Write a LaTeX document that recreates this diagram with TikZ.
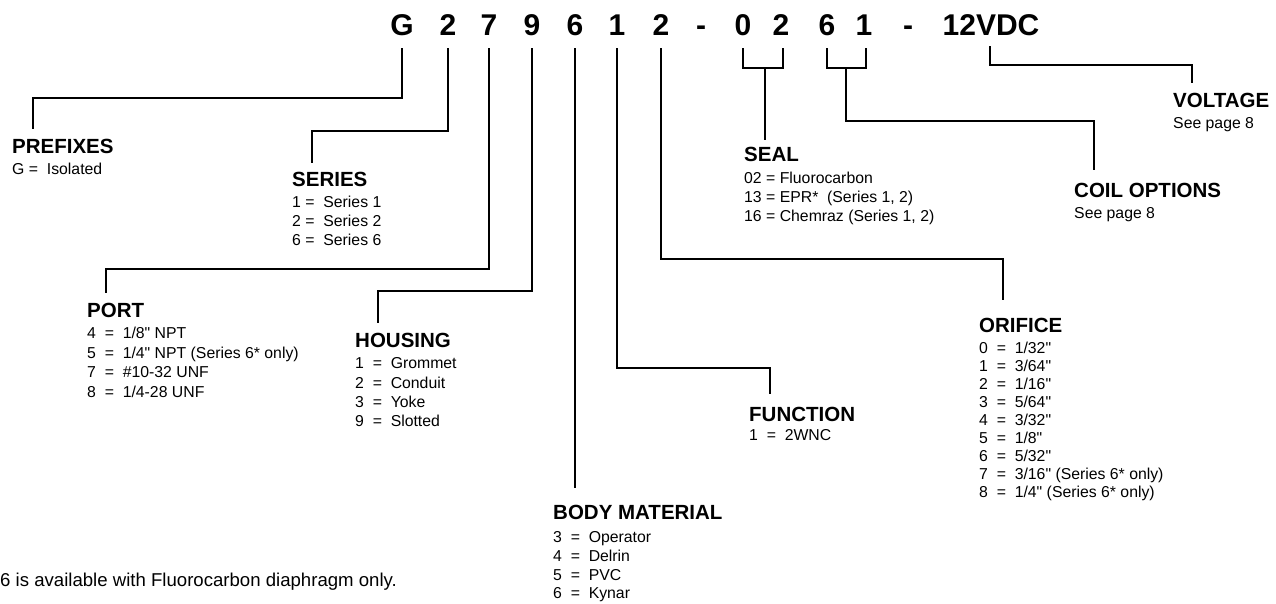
\documentclass[tikz,border=0pt]{standalone}
\usepackage{fontspec}
\setmainfont{Liberation Sans}[Ligatures=TeXOff]
\begin{document}
\begin{tikzpicture}[x=1pt,y=-1pt,
  code/.style={font=\fontsize{30}{30}\selectfont\bfseries, inner sep=0pt, anchor=base},
  head/.style={font=\fontsize{20.5}{24}\selectfont\bfseries, inner sep=0pt, anchor=base west},
  item/.style={font=\fontsize{15.8}{19}\selectfont, inner sep=0pt, anchor=base west},
  note/.style={font=\fontsize{18.6}{22}\selectfont, inner sep=0pt, anchor=base west},
  conn/.style={line width=2.8pt, line join=miter}]
\useasboundingbox (0,0) rectangle (1276,603);

% code characters
\node[code] (cG)  at (402,35) {G};
\node[code] (c2a) at (448,35) {2};
\node[code] (c7)  at (489,35) {7};
\node[code] (c9)  at (532,35) {9};
\node[code] (c6a) at (575,35) {6};
\node[code] (c1a) at (617,35) {1};
\node[code] (c2b) at (661,35) {2};
\node[code] (cda) at (701,35) {-};
\node[code] (c0)  at (743,35) {0};
\node[code] (c2c) at (781,35) {2};
\node[code] (c6b) at (827,35) {6};
\node[code] (c1b) at (864,35) {1};
\node[code] (cdb) at (908,35) {-};
\node[code] (cV)  at (991,35) {12VDC};

% headings and items
\node[head] (hPre) at (12,153) {PREFIXES};
\node[item] (iPre1) at (12,174) {G =\ \ Isolated};

\node[head] (hSer) at (292,186) {SERIES};
\node[item] (iSer1) at (292,207) {1 =\ \ Series 1};
\node[item] (iSer2) at (292,226) {2 =\ \ Series 2};
\node[item] (iSer3) at (292,245) {6 =\ \ Series 6};

\node[head] (hPort) at (87,317) {PORT};
\node[item] (iPort1) at (87,338) {4\ \ =\ \ 1/8" NPT};
\node[item] (iPort2) at (87,358) {5\ \ =\ \ 1/4" NPT (Series 6* only)};
\node[item] (iPort3) at (87,377) {7\ \ =\ \ \#10-32 UNF};
\node[item] (iPort4) at (87,397) {8\ \ =\ \ 1/4-28 UNF};

\node[head] (hHou) at (355,347) {HOUSING};
\node[item] (iHou1) at (355,368) {1\ \ =\ \ Grommet};
\node[item] (iHou2) at (355,388) {2\ \ =\ \ Conduit};
\node[item] (iHou3) at (355,407) {3\ \ =\ \ Yoke};
\node[item] (iHou4) at (355,426) {9\ \ =\ \ Slotted};

\node[head] (hBody) at (553,519) {BODY MATERIAL};
\node[item] (iBody1) at (553,542) {3\ \ =\ \ Operator};
\node[item] (iBody2) at (553,561) {4\ \ =\ \ Delrin};
\node[item] (iBody3) at (553,580) {5\ \ =\ \ PVC};
\node[item] (iBody4) at (553,598) {6\ \ =\ \ Kynar};

\node[head] (hFun) at (749,421) {FUNCTION};
\node[item] (iFun1) at (749,440) {1\ \ =\ \ 2WNC};

\node[head] (hOri) at (979,332) {ORIFICE};
\node[item] (iOri0) at (979,353.0) {0\ \ =\ \ 1/32"};
\node[item] (iOri1) at (979,371.1) {1\ \ =\ \ 3/64"};
\node[item] (iOri2) at (979,389.2) {2\ \ =\ \ 1/16"};
\node[item] (iOri3) at (979,407.3) {3\ \ =\ \ 5/64"};
\node[item] (iOri4) at (979,425.4) {4\ \ =\ \ 3/32"};
\node[item] (iOri5) at (979,443.5) {5\ \ =\ \ 1/8"};
\node[item] (iOri6) at (979,461.6) {6\ \ =\ \ 5/32"};
\node[item] (iOri7) at (979,479.7) {7\ \ =\ \ 3/16" (Series 6* only)};
\node[item] (iOri8) at (979,497.8) {8\ \ =\ \ 1/4" (Series 6* only)};

\node[head] (hSeal) at (744,161) {SEAL};
\node[item] (iSeal1) at (744,183) {02 = Fluorocarbon};
\node[item] (iSeal2) at (744,202) {13 = EPR*\ \ (Series 1, 2)};
\node[item] (iSeal3) at (744,221) {16 = Chemraz (Series 1, 2)};

\node[head] (hCoil) at (1074,197) {COIL OPTIONS};
\node[item] (iCoil1) at (1074,218) {See page 8};

\node[head] (hVolt) at (1173,107) {VOLTAGE};
\node[item] (iVolt1) at (1173,128) {See page 8};

\node[note] (note1) at (0,586) {6 is available with Fluorocarbon diaphragm only.};

% connector end points
\coordinate (tPre)  at (33,129);
\coordinate (tSer)  at (312,163);
\coordinate (tPort) at (106,293);
\coordinate (tHou)  at (378,323);
\coordinate (tBody) at (575,488);
\coordinate (tFun)  at (770,394);
\coordinate (tOri)  at (1003,300);
\coordinate (tSeal) at (765,140);
\coordinate (tCoil) at (1094,170);
\coordinate (tVolt) at (1192,83);

% connectors
\draw[conn] ([yshift=-13pt]cG.base)  |- (33,98)   -- (tPre);
\draw[conn] ([yshift=-13pt]c2a.base) |- (312,131) -- (tSer);
\draw[conn] ([yshift=-13pt]c7.base)  |- (106,269) -- (tPort);
\draw[conn] ([yshift=-13pt]c9.base)  |- (378,291) -- (tHou);
\draw[conn] ([yshift=-13pt]c6a.base) -- (tBody);
\draw[conn] ([yshift=-13pt]c1a.base) |- (770,368) -- (tFun);
\draw[conn] ([yshift=-13pt]c2b.base) |- (1003,259) -- (tOri);
\draw[conn] (743,48) -- (743,68) -- (783,68) -- (783,48);
\draw[conn] (765,68) -- (tSeal);
\draw[conn] (827,48) -- (827,68) -- (866,68) -- (866,48);
\draw[conn] (846,68) |- (1094,121) -- (tCoil);
\draw[conn] (990,46) |- (1192,65) -- (tVolt);
\end{tikzpicture}
\end{document}
